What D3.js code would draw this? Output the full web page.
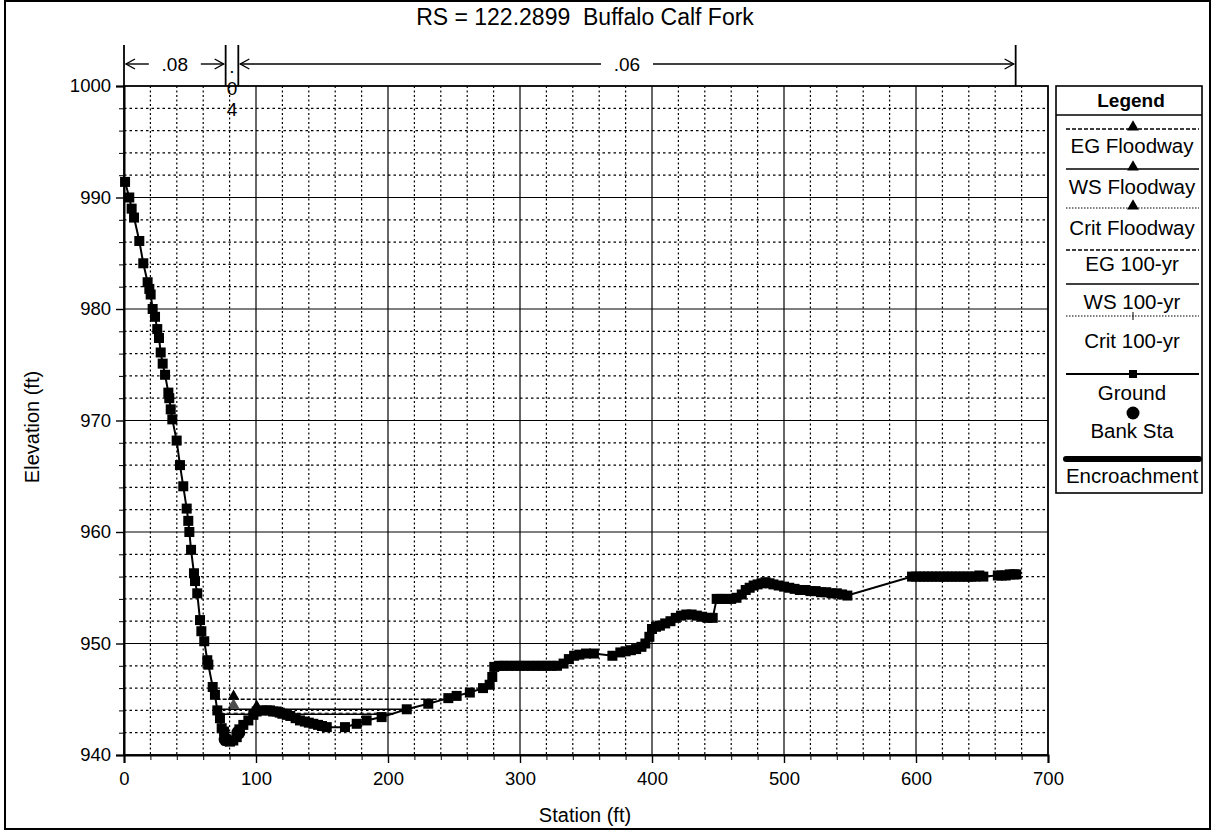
<!DOCTYPE html>
<html>
<head>
<meta charset="utf-8">
<script src="https://cdn.jsdelivr.net/npm/d3@7"></script>
<style>
  html, body { margin: 0; padding: 0; background: #fff; }
  svg { display: block; font-family: "Liberation Sans", Arial, sans-serif; }
  text { white-space: pre; }
</style>
</head>
<body>
<svg id="chart" width="1214" height="831"></svg>
<script>
// Cross section RS 122.2899, Buffalo Calf Fork
const title = "RS = 122.2899  Buffalo Calf Fork";

// Ground survey points
const groundSta = [0.8, 4.0, 5.8, 7.6, 11.6, 14.6, 17.9, 19.2, 20.2, 21.7, 23.5, 25.2, 26.5, 27.8, 29.3, 31.1,
  33.6, 34.3, 35.4, 36.6, 39.9, 42.4, 44.9, 47.5, 48.7, 49.5, 50.8, 53.0, 53.8, 55.5, 57.6, 58.6, 60.8,
  63.1, 63.9, 67.2, 68.9, 70.7, 72.7, 74.0, 75.8, 77.8, 80.3, 82.8, 85.4, 87.4, 90.4, 94.2, 98.0, 100.5,
  104, 108, 110.6, 113, 115.7, 118, 120, 123.3, 126, 130, 133.3, 137, 140, 143.4, 147, 150, 153.6, 167.4,
  176.3, 183.8, 195.2, 214.2, 230.5, 245.7, 252.0, 262, 272, 277, 279, 280.5, 284, 288, 292, 296, 300,
  304, 308, 312, 316, 320, 324, 328, 333, 337, 341, 345, 350, 356, 370, 376, 380, 384, 388, 392, 395,
  398, 400, 403, 406, 410, 414, 418, 422, 426, 430, 434, 438, 442, 446, 449, 452, 456, 460, 464, 468,
  471, 474, 477, 480, 483, 486, 489, 492, 496, 500, 504, 508, 512, 516, 520, 524, 528, 532, 536, 540,
  544, 548, 597, 600, 603, 606, 609, 612, 615, 618, 621, 624, 627, 630, 633, 636, 639, 642, 645, 648,
  651, 662, 665, 668, 671, 674, 676];
const groundElev = [991.4, 990.0, 989.0, 988.2, 986.1, 984.1, 982.4, 981.8, 981.3, 980.0, 979.3, 978.2, 977.4, 976.1, 975.1, 974.1,
  972.5, 972.0, 971.0, 970.1, 968.2, 966.0, 964.1, 962.1, 961.0, 960.0, 958.4, 956.3, 955.6, 954.5, 952.1, 951.1, 950.2,
  948.5, 948.1, 946.1, 945.4, 944.0, 943.3, 942.4, 942.1, 941.3, 941.2, 941.3, 941.6, 942.3, 942.7, 943.1, 943.6, 943.9,
  944.0, 944.0, 944.0, 943.9, 943.9, 943.8, 943.7, 943.6, 943.5, 943.3, 943.1, 943.0, 942.9, 942.8, 942.7, 942.6, 942.5, 942.5,
  942.8, 943.1, 943.4, 944.1, 944.6, 945.1, 945.3, 945.6, 946.0, 946.3, 947.0, 947.9, 948.0, 948.0, 948.0, 948.0, 948.0,
  948.0, 948.0, 948.0, 948.0, 948.0, 948.0, 948.0, 948.2, 948.6, 948.9, 949.0, 949.1, 949.1, 948.9, 949.2, 949.3, 949.4, 949.5, 949.7, 950.0,
  950.6, 951.3, 951.5, 951.6, 951.8, 952.0, 952.3, 952.5, 952.6, 952.6, 952.5, 952.4, 952.3, 952.3, 954.0, 954.0, 954.0, 954.0, 954.1, 954.4,
  954.8, 955.0, 955.2, 955.3, 955.4, 955.5, 955.4, 955.3, 955.2, 955.1, 955.0, 954.9, 954.8, 954.8, 954.7, 954.7, 954.6, 954.6, 954.5, 954.5,
  954.4, 954.3, 956.0, 956.0, 956.0, 956.0, 956.0, 956.0, 956.0, 956.0, 956.0, 956.0, 956.0, 956.0, 956.0, 956.0, 956.0, 956.0, 956.0, 956.1,
  956.0, 956.1, 956.1, 956.1, 956.2, 956.2, 956.2];

// Bank stations
const bankSta = [77.0, 86.6];
const bankElev = [941.4, 942.0];

// Water surface profiles: [left station, right station, elevation]
const egFloodway = [70.2, 244.5, 945.0];
const wsFloodway = [70.5, 214.0, 944.1];
const egHundred = [72.5, 205.0, 943.75];
const wsHundred = [72.8, 204.0, 943.65];
const markerEG = [83, 945.0];
const markerWS = [100.5, 944.1];
const markerCrit = [83, 944.2];

// Manning's n regions
const nSta = [0, 77.0, 86.6, 675.5];
const nVals = [".08", ".04", ".06"];

// Axes
const xTicks = [0, 100, 200, 300, 400, 500, 600, 700];
const yTicks = [940, 950, 960, 970, 980, 990, 1000];

const legendItems = ["EG Floodway", "WS Floodway", "Crit Floodway", "EG 100-yr", "WS 100-yr", "Crit 100-yr", "Ground", "Bank Sta", "Encroachment"];

const svg = d3.select("#chart");
const L = 124, R = 1048, T = 86, B = 755;
const x = d3.scaleLinear().domain([0, 700]).range([L, R]);
const y = d3.scaleLinear().domain([940, 1000]).range([B, T]);

// outer frame
svg.append("rect").attr("x", 5).attr("y", 1).attr("width", 1205).attr("height", 828)
  .attr("fill", "none").attr("stroke", "#000").attr("stroke-width", 2);

// title
svg.append("text").attr("x", 585).attr("y", 25).attr("text-anchor", "middle")
  .attr("font-size", 23).text(title);

// minor grid
const g = svg.append("g");
const minorX = d3.range(20, 700, 20).filter(v => v % 100 !== 0);
const minorY = d3.range(942, 1000, 2).filter(v => v % 10 !== 0);
g.selectAll(".mx").data(minorX).join("line")
  .attr("x1", d => x(d)).attr("x2", d => x(d)).attr("y1", T).attr("y2", B)
  .attr("stroke", "#000").attr("stroke-width", 1.2).attr("stroke-dasharray", "2,2.5");
g.selectAll(".my").data(minorY).join("line")
  .attr("x1", L).attr("x2", R).attr("y1", d => y(d)).attr("y2", d => y(d))
  .attr("stroke", "#000").attr("stroke-width", 1.2).attr("stroke-dasharray", "2.5,3");
// major grid
g.selectAll(".Mx").data(xTicks.slice(1, -1)).join("line")
  .attr("x1", d => x(d)).attr("x2", d => x(d)).attr("y1", T).attr("y2", B)
  .attr("stroke", "#000").attr("stroke-width", 1.2);
g.selectAll(".My").data(yTicks.slice(1, -1)).join("line")
  .attr("x1", L).attr("x2", R).attr("y1", d => y(d)).attr("y2", d => y(d))
  .attr("stroke", "#000").attr("stroke-width", 1.2);

// plot frame
svg.append("rect").attr("x", L).attr("y", T).attr("width", R - L).attr("height", B - T)
  .attr("fill", "none").attr("stroke", "#000").attr("stroke-width", 1.8);

// axes
const xAxis = svg.append("g").attr("transform", `translate(0,${B})`)
  .call(d3.axisBottom(x).tickValues(xTicks).tickSize(8).tickFormat(d3.format("d")));
svg.append("g").attr("transform", `translate(0,${B})`)
  .call(d3.axisBottom(x).tickValues(minorX).tickSize(5).tickFormat(""))
  .call(a => a.select(".domain").remove());
const yAxis = svg.append("g").attr("transform", `translate(${L},0)`)
  .call(d3.axisLeft(y).tickValues(yTicks).tickSize(8).tickFormat(d3.format("d")));
svg.append("g").attr("transform", `translate(${L},0)`)
  .call(d3.axisLeft(y).tickValues(minorY).tickSize(5).tickFormat(""))
  .call(a => a.select(".domain").remove());
[xAxis, yAxis].forEach(a => {
  a.selectAll("text").attr("font-size", 18.5).attr("font-family", "Liberation Sans, Arial, sans-serif").attr("fill", "#000");
  a.selectAll("line").attr("stroke", "#000").attr("stroke-width", 1.4);
  a.select(".domain").attr("stroke", "#000").attr("stroke-width", 2);
});
xAxis.selectAll("text").attr("dy", "1.05em");
yAxis.selectAll("text").attr("dx", "-2");

// axis titles
svg.append("text").attr("x", 585).attr("y", 822).attr("text-anchor", "middle")
  .attr("font-size", 20).text("Station (ft)");
svg.append("text").attr("transform", "translate(39,427) rotate(-90)").attr("text-anchor", "middle")
  .attr("font-size", 20).text("Elevation (ft)");

// Manning's n bars above the plot
const nY = 64;
svg.selectAll(".nline").data(nSta).join("line")
  .attr("x1", d => x(d)).attr("x2", d => x(d)).attr("y1", 45).attr("y2", T)
  .attr("stroke", "#000").attr("stroke-width", 1.8);
function arrowHead(px, dir) {
  // dir = -1 points left, +1 points right
  svg.append("path")
    .attr("d", `M${px - dir * 9},${nY - 5} L${px},${nY} L${px - dir * 9},${nY + 5}`)
    .attr("fill", "none").attr("stroke", "#000").attr("stroke-width", 1.4);
}
function nSpan(a, b, label) {
  const xa = x(a) + 2, xb = x(b) - 2, mid = (xa + xb) / 2;
  const half = label.length * 6 + 8;
  svg.append("line").attr("x1", xa).attr("x2", mid - half).attr("y1", nY).attr("y2", nY).attr("stroke", "#000").attr("stroke-width", 1.4);
  svg.append("line").attr("x1", mid + half).attr("x2", xb).attr("y1", nY).attr("y2", nY).attr("stroke", "#000").attr("stroke-width", 1.4);
  arrowHead(xa, -1); arrowHead(xb, 1);
  svg.append("text").attr("x", mid).attr("y", nY + 7).attr("text-anchor", "middle").attr("font-size", 19).text(label);
}
nSpan(nSta[0], nSta[1], nVals[0]);
nSpan(nSta[2], nSta[3], nVals[2]);
// the middle region is too narrow, so its value wraps one character per line
const midX = (x(nSta[1]) + x(nSta[2])) / 2;
nVals[1].split("").forEach((ch, i) => {
  svg.append("text").attr("x", midX).attr("y", [73, 95, 116][i]).attr("text-anchor", "middle")
    .attr("font-size", 19).text(ch);
});

// water surfaces
const plot = svg.append("g");
function wsLine(p, dash, w) {
  plot.append("line").attr("x1", x(p[0])).attr("x2", x(p[1])).attr("y1", y(p[2])).attr("y2", y(p[2]))
    .attr("stroke", "#000").attr("stroke-width", w).attr("stroke-dasharray", dash);
}
wsLine(egFloodway, "4,2", 1.6);
wsLine(egHundred, "4,3", 1);
wsLine(wsFloodway, null, 1.6);
wsLine(wsHundred, null, 1.6);
const tri = d3.symbol().type(d3.symbolTriangle).size(60);
[markerEG, markerWS, markerCrit].forEach((m, i) => {
  plot.append("path").attr("d", tri).attr("transform", `translate(${x(m[0])},${y(m[1]) - 3})`)
    .attr("fill", "#000").attr("opacity", i === 2 ? 0.7 : 1);
});

// ground
const ground = groundSta.map((s, i) => [s, groundElev[i]]);
plot.append("path").datum(ground)
  .attr("d", d3.line().x(d => x(d[0])).y(d => y(d[1])))
  .attr("fill", "none").attr("stroke", "#000").attr("stroke-width", 2);
plot.selectAll(".gpt").data(ground).join("rect")
  .attr("x", d => x(d[0]) - 5).attr("y", d => y(d[1]) - 5)
  .attr("width", 10).attr("height", 10).attr("fill", "#000");

// bank stations
plot.selectAll(".bank").data(bankSta).join("circle")
  .attr("cx", d => x(d)).attr("cy", (d, i) => y(bankElev[i])).attr("r", 7).attr("fill", "#000");

// legend
const lg = svg.append("g");
const lx0 = 1056, lx1 = 1202;
lg.append("rect").attr("x", lx0).attr("y", 86).attr("width", lx1 - lx0).attr("height", 407)
  .attr("fill", "#fff").attr("stroke", "#000").attr("stroke-width", 1.6);
lg.append("line").attr("x1", lx0).attr("x2", lx1).attr("y1", 115).attr("y2", 115).attr("stroke", "#000").attr("stroke-width", 1.3);
lg.append("text").attr("x", (lx0 + lx1) / 2 + 2).attr("y", 107).attr("text-anchor", "middle")
  .attr("font-size", 19).attr("font-weight", "bold").text("Legend");
const lineY = [129, 169, 208, 250, 284, 316, 374, 413, 459];
const textY = [153, 194, 235, 271, 309, 348, 400, 438, 483];
const styles = [
  { dash: "4,2", w: 1.3, mark: "tri" },
  { dash: null, w: 1.6, mark: "tri" },
  { dash: "1.5,1.5", w: 1.1, mark: "tri" },
  { dash: "4,2", w: 1.3 },
  { dash: null, w: 1.6 },
  { dash: "1.5,1.5", w: 1.1, mark: "plus" },
  { dash: null, w: 2.2, mark: "sq" },
  { line: false, mark: "circ" },
  { dash: null, w: 6, cap: "round" }
];
const lmx = 1133;
legendItems.forEach((name, i) => {
  const st = styles[i];
  if (st.line !== false) {
    lg.append("line").attr("x1", lx0 + 10).attr("x2", lx1 - 3).attr("y1", lineY[i]).attr("y2", lineY[i])
      .attr("stroke", "#000").attr("stroke-width", st.w).attr("stroke-dasharray", st.dash)
      .attr("stroke-linecap", st.cap || "butt");
  }
  if (st.mark === "tri") lg.append("path").attr("d", tri).attr("transform", `translate(${lmx},${lineY[i] - 2})`).attr("fill", "#000");
  if (st.mark === "sq") lg.append("rect").attr("x", lmx - 4).attr("y", lineY[i] - 4).attr("width", 8).attr("height", 8).attr("fill", "#000");
  if (st.mark === "circ") lg.append("circle").attr("cx", lmx).attr("cy", lineY[i]).attr("r", 6.5).attr("fill", "#000");
  if (st.mark === "plus") lg.append("line").attr("x1", lmx).attr("x2", lmx).attr("y1", lineY[i] - 4).attr("y2", lineY[i] + 4).attr("stroke", "#000");
  lg.append("text").attr("x", (lx0 + lx1) / 2 + 3).attr("y", textY[i]).attr("text-anchor", "middle")
    .attr("font-size", 20.5).text(name);
});
</script>
</body>
</html>
